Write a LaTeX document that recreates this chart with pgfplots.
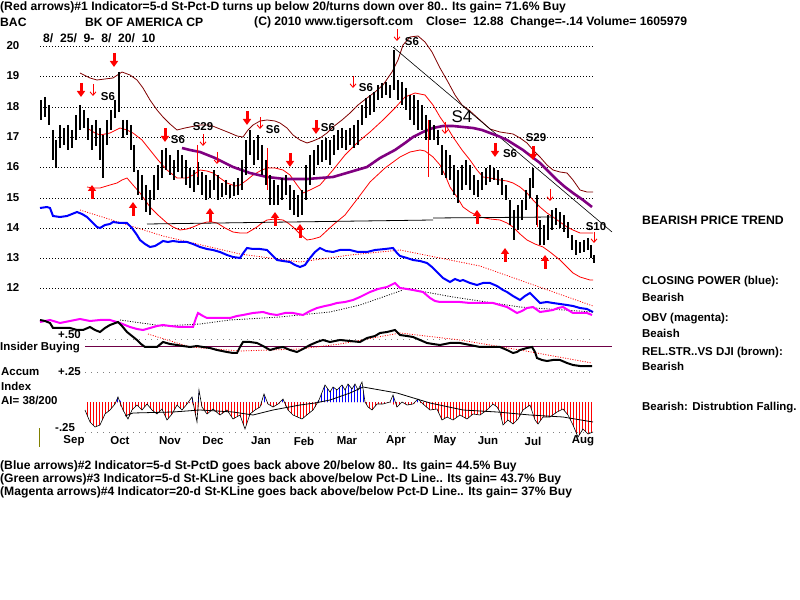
\documentclass[border=0pt]{standalone}
\usepackage{pgfplots}
\pgfplotsset{compat=1.18}
\usepackage{pgfplotstable}
\usepackage{fontspec}
\setmainfont{Liberation Sans}
\usetikzlibrary{patterns.meta, arrows.meta}
\definecolor{grid}{RGB}{0,128,0}
\definecolor{maroon}{RGB}{128,0,0}
\definecolor{ma}{RGB}{128,0,128}
\definecolor{ins}{RGB}{110,0,70}
\definecolor{olivebr}{RGB}{128,128,0}
\definecolor{mag}{RGB}{255,0,255}
\definecolor{rd}{RGB}{255,0,0}
\definecolor{bl}{RGB}{0,0,255}
\newcommand{\tf}{\fontsize{11.5}{13}\selectfont\bfseries}
\newcommand{\lf}{\fontsize{12.2}{14}\selectfont\bfseries}
\newcommand{\sgf}{\fontsize{11.5}{13}\selectfont\bfseries}

\pgfplotstableread{
x h l
41 100 120
45 97 117
49 105 125
53 130 160
56 140 168
60 125 148
64 128 145
68 125 150
72 130 148
76 115 140
80 105 130
84 110 128
88 118 140
92 125 150
96 120 146
100 128 160
103 135 178
107 120 145
111 110 130
115 100 118
119 72 112
123 120 138
127 120 135
131 125 150
134 145 172
138 170 195
142 175 200
146 185 212
150 190 215
154 175 200
158 165 190
162 150 178
166 148 170
170 155 175
174 160 180
178 150 172
182 155 178
186 160 185
190 168 188
194 170 192
198 162 185
202 172 195
206 175 200
210 180 198
214 170 190
218 175 200
222 183 197
226 180 195
230 185 198
234 182 196
238 178 195
242 160 190
246 140 175
250 130 155
254 140 165
258 135 160
262 145 175
266 160 185
270 175 205
274 180 205
278 185 205
282 178 200
286 175 195
290 185 210
294 190 215
298 195 217
302 190 215
306 165 200
310 155 185
314 150 175
318 145 165
322 140 162
326 138 160
330 140 165
334 135 155
338 130 150
342 128 148
346 130 150
350 128 145
354 125 148
358 120 145
362 105 125
366 98 118
370 95 115
374 92 112
378 85 100
382 83 98
386 82 95
390 85 98
394 50 90
398 80 100
402 82 105
406 88 110
410 95 120
414 95 125
418 100 130
422 105 130
426 115 140
430 120 140
434 125 140
438 130 145
442 145 175
446 150 178
450 155 180
454 165 195
458 170 203
462 165 190
466 160 185
470 165 190
474 175 195
478 180 197
482 172 190
486 168 185
490 165 182
494 168 180
498 170 185
502 178 195
506 185 200
510 200 225
514 210 240
518 205 230
522 200 220
526 190 210
530 178 198
533 168 188
537 195 225
540 220 245
544 225 245
548 215 240
552 210 230
556 208 225
560 212 228
564 215 232
568 222 238
572 235 250
576 240 255
580 242 253
584 240 252
588 238 250
591 245 258
594 255 263
}\bars

\pgfplotstableread{
x y v
81 83 14
114 53 14
165 128 14
247 111 14
290 153 14
316 120 14
495 143 14
533 146 14
92 199 -14
133 216 -14
210 222 -14
275 226 -14
300 238 -14
477 224 -14
505 262 -14
545 269 -14
}\thickarr

\pgfplotstableread{
x y v
93 84 12
203 134 12
217 152 12
260 117 12
353 76 12
397 29 12
445 122 12
550 189 12
594 232 11
}\thinarr

\pgfplotstableread{
x h l
197 145 177
267 148 190
428 120 177
537 207 227
}\sigbars

\begin{document}
\begin{tikzpicture}
\begin{axis}[
  scale only axis, width=800bp, height=600bp,
  xmin=0, xmax=800, ymin=0, ymax=600, y dir=reverse,
  hide axis, clip=false,
]
% price gridlines
\pgfplotsinvokeforeach{46,76,107,137,167,198,228,258,288}{
  \addplot[grid, line width=0.8bp, dash pattern=on 1bp off 2bp, forget plot] coordinates {(40,#1)(593,#1)};
}
% indicator dotted levels
\pgfplotsinvokeforeach{340,372,432}{
  \addplot[gray, line width=1bp, dash pattern=on 1bp off 5bp, forget plot] coordinates {(85,#1)(593,#1)};
}
% bands
\addplot[maroon, line width=0.8bp] coordinates {(80,73)(90,78)(97,80)(105,79)(113,78)(122,72)(130,75)(137,80)(143,88)(150,100)(157,110)(163,117)(170,124)(177,130)(185,128)(190,127)(200,125)(210,125)(220,129)(230,133)(237,136)(243,137)(248,130)(253,125)(260,121)(267,120)(275,121)(280,123)(287,128)(293,135)(300,140)(307,143)(313,141)(320,138)(327,133)(333,127)(342,120)(350,113)(358,105)(367,98)(375,92)(383,85)(392,72)(398,60)(403,45)(410,37)(418,36)(425,42)(432,52)(440,68)(448,82)(455,95)(462,105)(470,111)(480,120)(490,129)(500,132)(513,134)(520,138)(527,143)(533,150)(540,157)(547,165)(553,170)(560,172)(567,173)(573,180)(580,190)(587,192)(593,192)};
\addplot[rd, line width=0.8bp] coordinates {(87,128)(95,133)(100,135)(110,133)(120,128)(127,130)(133,133)(142,140)(150,150)(158,160)(167,170)(177,178)(187,178)(193,175)(200,170)(207,171)(213,173)(220,178)(227,183)(235,186)(240,185)(247,180)(253,175)(260,171)(267,168)(275,168)(283,170)(290,175)(297,185)(303,193)(310,190)(320,185)(333,170)(345,155)(358,142)(370,132)(383,120)(395,108)(405,97)(415,93)(425,95)(433,105)(440,117)(447,127)(453,137)(462,150)(470,160)(477,170)(483,177)(490,178)(500,180)(507,181)(513,183)(520,187)(527,193)(533,200)(540,207)(547,213)(553,217)(560,222)(567,227)(573,230)(580,233)(593,233)};
\addplot[rd, line width=0.8bp] coordinates {(87,187)(93,188)(100,188)(110,185)(117,183)(122,180)(127,178)(133,185)(140,193)(145,200)(150,207)(158,215)(167,223)(173,227)(180,230)(187,229)(193,227)(200,224)(207,222)(212,222)(217,223)(225,228)(233,232)(240,233)(247,233)(252,230)(257,227)(262,223)(267,220)(275,219)(283,220)(288,223)(293,227)(300,234)(307,240)(313,239)(320,237)(333,225)(345,215)(358,198)(370,182)(385,168)(400,157)(410,152)(420,150)(425,151)(433,157)(440,165)(445,175)(450,187)(457,197)(463,207)(470,212)(480,217)(490,219)(500,220)(507,223)(513,227)(520,234)(527,240)(535,244)(543,247)(550,252)(560,260)(567,267)(573,273)(580,277)(590,280)(593,280)};
% support / trend lines
\addplot[black, line width=0.8bp] coordinates {(147,224)(433,220)};
\addplot[black, line width=0.8bp] coordinates {(433,218)(553,217)};
\addplot[black, line width=0.6bp] coordinates {(393,47)(612,232)};
% purple MA
\addplot[ma, line width=2.6bp] coordinates {(182,148)(190,150)(200,152)(215,158)(233,167)(250,173)(267,177)(285,179)(307,179)(320,178)(333,177)(350,172)(367,167)(380,158)(395,150)(405,143)(413,137)(423,132)(433,128)(443,126)(453,126)(463,127)(473,128)(482,130)(490,133)(498,136)(507,140)(515,145)(523,150)(532,157)(540,163)(548,171)(557,180)(565,187)(573,193)(583,200)(592,207)};
% price bars
\addplot[draw=none, mark=none, forget plot, error bars/.cd, y dir=plus, y explicit, error mark=none,
  error bar style={draw=black, solid, line width=1.2bp}]
  table[x=x, y=h, y error plus expr=\thisrow{l}-\thisrow{h}] {\bars};
\addplot[draw=none, mark=none, forget plot, error bars/.cd, y dir=plus, y explicit, error mark=none,
  error bar style={draw=rd, solid, line width=1bp}]
  table[x=x, y=h, y error plus expr=\thisrow{l}-\thisrow{h}] {\sigbars};
% closing power
\addplot[rd, line width=0.8bp, dash pattern=on 1bp off 1.5bp] coordinates {(80,210)(163,236)(240,254)(300,262)(350,255)(400,250)};
\addplot[rd, line width=0.8bp, dash pattern=on 1bp off 1.5bp] coordinates {(400,250)(480,266)(593,306)};
\addplot[bl, line width=2bp] coordinates {(40,208)(47,207)(50,208)(53,216)(60,217)(67,216)(72,214)(77,212)(82,214)(87,217)(92,222)(97,227)(100,228)(105,225)(110,224)(113,222)(120,223)(127,223)(132,228)(137,235)(140,240)(145,244)(150,247)(155,246)(160,243)(163,241)(168,242)(173,241)(180,242)(187,242)(193,244)(200,247)(207,249)(213,250)(220,252)(227,255)(233,257)(240,258)(244,252)(247,248)(253,249)(260,249)(267,250)(272,255)(277,260)(283,261)(290,262)(295,265)(300,267)(305,265)(310,258)(315,252)(320,248)(326,251)(333,252)(340,250)(350,250)(358,252)(367,252)(375,250)(385,249)(393,248)(397,253)(400,256)(407,258)(413,260)(420,261)(427,263)(432,267)(437,272)(443,278)(450,282)(455,279)(460,281)(463,280)(470,283)(477,285)(483,283)(490,283)(497,286)(503,290)(507,292)(513,296)(520,300)(525,296)(530,293)(535,298)(540,303)(547,302)(553,303)(560,304)(567,305)(573,306)(580,308)(587,309)(593,312)};
% OBV
\addplot[black, line width=0.8bp, dash pattern=on 1bp off 1.5bp] coordinates {(120,320)(163,326)(200,324)(230,320)(280,317)(330,312)(360,305)(403,290)};
\addplot[black, line width=0.8bp, dash pattern=on 1bp off 1.5bp] coordinates {(403,288)(453,297)(520,307)(593,312)};
\addplot[mag, line width=2bp] coordinates {(40,322)(50,320)(60,323)(70,321)(80,319)(90,321)(100,320)(110,320)(120,323)(130,327)(137,329)(143,330)(150,328)(157,326)(163,325)(170,326)(180,327)(193,327)(196,318)(198,313)(203,316)(207,318)(220,318)(230,318)(237,316)(243,315)(253,313)(263,312)(270,314)(277,315)(285,313)(293,313)(303,315)(310,311)(317,308)(325,306)(330,305)(337,303)(345,302)(353,300)(360,297)(370,292)(378,289)(387,287)(395,283)(400,288)(407,289)(413,290)(423,292)(430,298)(435,301)(440,302)(450,302)(460,302)(470,303)(480,303)(493,303)(500,305)(507,307)(512,310)(517,313)(522,311)(527,308)(533,307)(540,312)(547,311)(553,310)(558,308)(563,307)(568,310)(573,313)(580,313)(587,313)(592,315)};
% insider line
\addplot[ins, line width=1bp] coordinates {(85,347)(612,347)};
% RS
\addplot[rd, line width=0.8bp, dash pattern=on 1bp off 1.5bp] coordinates {(148,334)(190,347)(240,351)(300,349)(340,344)(400,333)(460,340)(520,350)(592,363)};
\addplot[black, line width=2bp] coordinates {(40,320)(45,321)(50,323)(53,328)(60,328)(70,328)(77,330)(83,330)(90,327)(95,330)(100,332)(105,328)(110,325)(118,322)(122,326)(127,332)(132,336)(137,340)(141,344)(145,347)(150,347)(157,347)(163,342)(170,344)(177,345)(183,346)(190,347)(197,346)(203,347)(210,348)(217,350)(222,351)(227,352)(233,353)(237,353)(240,347)(243,342)(250,342)(257,343)(263,346)(270,350)(277,348)(283,347)(290,350)(297,352)(303,349)(310,345)(317,342)(323,340)(330,342)(340,340)(350,341)(360,342)(367,338)(375,336)(380,333)(387,332)(395,330)(400,335)(407,336)(413,337)(420,340)(427,343)(433,344)(440,345)(450,343)(460,343)(470,345)(480,347)(490,347)(500,347)(507,350)(513,353)(517,352)(520,350)(527,348)(532,347)(535,352)(537,358)(542,360)(547,361)(553,360)(560,360)(567,363)(573,365)(580,366)(587,366)(592,366)};
% accumulation index
\addplot[draw=none, pattern={Lines[angle=90, distance=3bp, line width=1bp]}, pattern color=rd] coordinates {(85,402)(85,410)(90,422)(95,427)(100,425)(105,414)(110,410)(115,404)(118,402)(123,410)(128,419)(132,410)(137,405)(142,410)(147,404)(152,410)(157,414)(162,409)(167,420)(172,414)(177,405)(182,410)(187,404)(192,402)(195,412)(197,422)(199,402)(202,407)(207,414)(213,409)(220,415)(227,410)(233,419)(240,415)(245,429)(250,414)(255,410)(260,407)(264,402)(268,404)(273,407)(278,404)(283,402)(288,410)(293,415)(302,419)(308,414)(313,410)(319,402)(365,402)(368,407)(372,410)(377,404)(383,404)(390,402)(397,407)(402,402)(407,405)(413,404)(418,402)(423,404)(430,410)(437,409)(442,420)(447,417)(453,420)(460,415)(467,419)(473,414)(480,415)(487,410)(493,404)(497,407)(500,412)(503,425)(508,420)(513,424)(518,419)(523,410)(530,405)(535,420)(538,424)(543,417)(550,417)(557,412)(563,409)(568,415)(573,425)(578,437)(583,429)(588,434)(593,432)(593,402)};
\addplot[draw=none, pattern={Lines[angle=90, distance=3bp, line width=1bp]}, pattern color=bl] coordinates {(115,402)(118,397)(121,402)(190,402)(192,397)(194,402)(198,402)(199,390)(200,402)(262,402)(264,394)(266,402)(281,402)(283,399)(285,402)(316,402)(319,400)(325,385)(330,392)(333,387)(337,390)(342,385)(345,390)(348,384)(352,389)(355,384)(358,390)(362,382)(365,402)(391,402)(393,395)(395,402)(416,402)(418,399)(420,402)};
\addplot[black, line width=0.6bp] coordinates {(85,410)(90,422)(95,427)(100,425)(105,414)(110,410)(115,404)(118,397)(123,410)(128,419)(132,410)(137,405)(142,410)(147,404)(152,410)(157,414)(162,409)(167,420)(172,414)(177,405)(182,410)(187,404)(192,397)(195,412)(197,422)(199,390)(202,407)(207,414)(213,409)(220,415)(227,410)(233,419)(240,415)(245,429)(250,414)(255,410)(260,407)(264,394)(268,404)(273,407)(278,404)(283,399)(288,410)(293,415)(302,419)(308,414)(313,410)(319,400)(325,385)(330,392)(333,387)(337,390)(342,385)(345,390)(348,384)(352,389)(355,384)(358,390)(362,382)(365,402)(368,407)(372,410)(377,404)(383,404)(390,402)(393,395)(397,407)(402,402)(407,405)(413,404)(418,399)(423,404)(430,410)(437,409)(442,420)(447,417)(453,420)(460,415)(467,419)(473,414)(480,415)(487,410)(493,404)(497,407)(500,412)(503,425)(508,420)(513,424)(518,419)(523,410)(530,405)(535,420)(538,424)(543,417)(550,417)(557,412)(563,409)(568,415)(573,425)(578,437)(583,429)(588,434)(593,432)};
\addplot[black, line width=0.8bp] coordinates {(125,416)(133,413)(173,412)(200,410)(233,412)(253,415)(273,410)(300,405)(315,403)(330,400)(350,393)(363,387)(397,393)(430,403)(463,410)(497,412)(530,415)(563,417)(593,422)};
\addplot[olivebr, line width=1bp] coordinates {(39,428)(39,447)};
% arrows
\addplot[rd, line width=3bp, quiver={u=0, v=\thisrow{v}, every arrow/.append style={-{Triangle[width=8bp,length=6bp]}}}] table[x=x, y=y] {\thickarr};
\addplot[rd, line width=0.9bp, quiver={u=0, v=\thisrow{v}, every arrow/.append style={-{Straight Barb[width=6bp,length=3.5bp]}}}] table[x=x, y=y] {\thinarr};
% price labels
\node[font=\sgf, inner sep=0] at (axis cs:13,46) {20};
\node[font=\sgf, inner sep=0] at (axis cs:13,76) {19};
\node[font=\sgf, inner sep=0] at (axis cs:13,107) {18};
\node[font=\sgf, inner sep=0] at (axis cs:13,137) {17};
\node[font=\sgf, inner sep=0] at (axis cs:13,167) {16};
\node[font=\sgf, inner sep=0] at (axis cs:13,198) {15};
\node[font=\sgf, inner sep=0] at (axis cs:13,228) {14};
\node[font=\sgf, inner sep=0] at (axis cs:13,258) {13};
\node[font=\sgf, inner sep=0] at (axis cs:13,288) {12};
% signal labels
\node[font=\sgf, inner sep=0] at (axis cs:108,97) {S6};
\node[font=\sgf, inner sep=0] at (axis cs:178,140) {S6};
\node[font=\sgf, inner sep=0] at (axis cs:203,127) {S29};
\node[font=\sgf, inner sep=0] at (axis cs:273,130) {S6};
\node[font=\sgf, inner sep=0] at (axis cs:328,128) {S6};
\node[font=\sgf, inner sep=0] at (axis cs:366,88) {S6};
\node[font=\sgf, inner sep=0] at (axis cs:412,42) {S6};
\node[font=\fontsize{17}{19}\selectfont, inner sep=0] at (axis cs:462,117) {S4};
\node[font=\sgf, inner sep=0] at (axis cs:510,154) {S6};
\node[font=\sgf, inner sep=0] at (axis cs:536,138) {S29};
\node[font=\sgf, inner sep=0] at (axis cs:596,227) {S10};
% header
\node[font=\lf, anchor=west, inner sep=0] at (axis cs:0,7) {(Red arrows)\#1 Indicator=5-d St-Pct-D turns up below 20/turns down over 80.. Its gain= 71.6\% Buy};
\node[font=\lf, anchor=west, inner sep=0] at (axis cs:0,22) {BAC};
\node[font=\lf, anchor=west, inner sep=0] at (axis cs:85,22) {BK OF AMERICA CP};
\node[font=\lf, anchor=west, inner sep=0] at (axis cs:254,22) {(C) 2010 www.tigersoft.com};
\node[font=\lf, anchor=west, inner sep=0] at (axis cs:426,22) {Close=\ \ 12.88\ \ Change=-.14 Volume= 1605979};
\node[font=\lf, anchor=west, inner sep=0] at (axis cs:43,38) {8/\ \ 25/\ \ 9-\ \ 8/\ \ 20/\ \ 10};
% lower left labels
\node[font=\tf, anchor=east, inner sep=0] at (axis cs:81,335) {+.50};
\node[font=\tf, anchor=west, inner sep=0] at (axis cs:0,348) {Insider Buying};
\node[font=\tf, anchor=east, inner sep=0] at (axis cs:81,372) {+.25};
\node[font=\tf, anchor=west, inner sep=0] at (axis cs:1,372) {Accum};
\node[font=\tf, anchor=west, inner sep=0] at (axis cs:1,386) {Index};
\node[font=\tf, anchor=west, inner sep=0] at (axis cs:1,400) {AI= 38/200};
\node[font=\tf, anchor=west, inner sep=0] at (axis cs:55,428) {-.25};
% months
\node[font=\tf, inner sep=0] at (axis cs:74,441) {Sep};
\node[font=\tf, inner sep=0] at (axis cs:120,441) {Oct};
\node[font=\tf, inner sep=0] at (axis cs:170,441) {Nov};
\node[font=\tf, inner sep=0] at (axis cs:213,441) {Dec};
\node[font=\tf, inner sep=0] at (axis cs:261,441) {Jan};
\node[font=\tf, inner sep=0] at (axis cs:304,441) {Feb};
\node[font=\tf, inner sep=0] at (axis cs:347,441) {Mar};
\node[font=\tf, inner sep=0] at (axis cs:396,441) {Apr};
\node[font=\tf, inner sep=0] at (axis cs:445,441) {May};
\node[font=\tf, inner sep=0] at (axis cs:488,441) {Jun};
\node[font=\tf, inner sep=0] at (axis cs:533,441) {Jul};
\node[font=\tf, inner sep=0] at (axis cs:583,441) {Aug};
% right texts
\node[font=\fontsize{12.3}{14}\selectfont\bfseries, anchor=west, inner sep=0] at (axis cs:642,220) {BEARISH PRICE TREND};
\node[font=\tf, anchor=west, inner sep=0] at (axis cs:642,282) {CLOSING POWER (blue):};
\node[font=\tf, anchor=west, inner sep=0] at (axis cs:642,297) {Bearish};
\node[font=\tf, anchor=west, inner sep=0] at (axis cs:642,319) {OBV (magenta):};
\node[font=\tf, anchor=west, inner sep=0] at (axis cs:642,333) {Beaish};
\node[font=\tf, anchor=west, inner sep=0] at (axis cs:642,353) {REL.STR..VS DJI (brown):};
\node[font=\tf, anchor=west, inner sep=0] at (axis cs:642,366) {Bearish};
\node[font=\tf, anchor=west, inner sep=0] at (axis cs:642,408) {Bearish: Distrubtion Falling.};
% bottom
\node[font=\lf, anchor=west, inner sep=0] at (axis cs:0,466) {(Blue arrows)\#2 Indicator=5-d St-PctD goes back above 20/below 80.. Its gain= 44.5\% Buy};
\node[font=\lf, anchor=west, inner sep=0] at (axis cs:0,479) {(Green arrows)\#3 Indicator=5-d St-KLine goes back above/below Pct-D Line.. Its gain= 43.7\% Buy};
\node[font=\lf, anchor=west, inner sep=0] at (axis cs:0,492) {(Magenta arrows)\#4 Indicator=20-d St-KLine goes back above/below Pct-D Line.. Its gain= 37\% Buy};
\end{axis}
\pgfresetboundingbox
\path[use as bounding box] (current axis.south west) rectangle (current axis.north east);
\end{tikzpicture}
\end{document}
